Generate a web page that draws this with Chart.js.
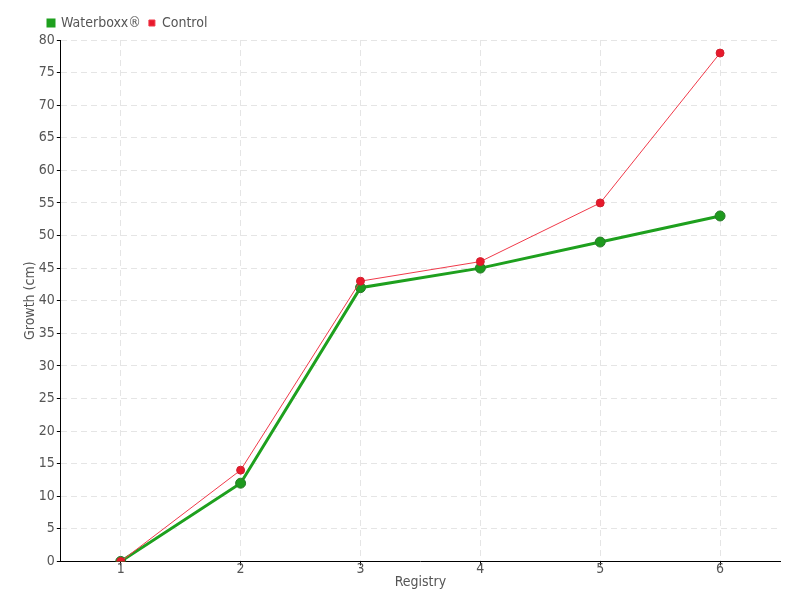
<!DOCTYPE html>
<html>
<head>
<meta charset="utf-8">
<script src="https://cdn.jsdelivr.net/npm/chart.js@4.4.0/dist/chart.umd.min.js"></script>
<style>
  body { margin: 0; background: #fff; }
  #growth { display: block; }
</style>
</head>
<body>
<canvas id="growth" width="800" height="600"></canvas>
<script>
var registries = ['1', '2', '3', '4', '5', '6'];
var waterboxx = [0, 12, 42, 45, 49, 53];
var control = [0, 14, 43, 46, 55, 78];

Chart.defaults.font.family = '"DejaVu Sans Condensed", "Liberation Sans Narrow", sans-serif';
Chart.defaults.font.size = 14;
Chart.defaults.color = '#555555';

// push the legend right so it starts near the y axis, like the original
var legendShift = {
	id: 'legendShift',
	afterLayout: function (chart) {
		chart.legend.left += 18;
	}
};

var ctx = document.getElementById('growth').getContext('2d');
var growthChart = new Chart(ctx, {
	type: 'line',
	data: {
		labels: registries,
		datasets: [{
			label: 'Waterboxx®',
			data: waterboxx,
			order: 1,
			borderColor: '#1ea01e',
			backgroundColor: '#1ea01e',
			borderWidth: 3,
			pointRadius: 5,
			pointBackgroundColor: '#1e9a1e',
			pointBorderColor: '#2a7a2a',
			pointBorderWidth: 1,
			tension: 0,
			fill: false
		},
		{
			label: 'Control',
			data: control,
			order: 0, // drawn on top of the green line
			borderColor: '#f03a4a',
			backgroundColor: '#e8192c',
			borderWidth: 1,
			pointRadius: 4,
			pointBackgroundColor: '#e8192c',
			pointBorderColor: '#d0202e',
			pointBorderWidth: 1,
			tension: 0,
			fill: false
		}]
	},
	options: {
		responsive: false,
		animation: false,
		layout: {
			padding: { left: 22, right: 20, top: 8, bottom: 9 }
		},
		plugins: {
			legend: {
				align: 'start',
				labels: {
					boxWidth: 6,
					boxHeight: 6,
					padding: 8,
					color: '#555555',
					font: { size: 14 },
					sort: function (a, b) { return a.datasetIndex - b.datasetIndex; }
				}
			},
			tooltip: { enabled: false }
		},
		scales: {
			x: {
				offset: true,
				title: {
					display: true,
					text: 'Registry',
					padding: { top: 0, bottom: 0 }
				},
				border: { color: '#000000', width: 1, dash: [6, 4] },
				grid: {
					color: '#e5e5e5',
					offset: false,
					tickColor: '#000000',
					tickLength: 4
				},
				ticks: { padding: -4 }
			},
			y: {
				min: 0,
				max: 80,
				title: {
					display: true,
					text: 'Growth (cm)',
					padding: { top: 0, bottom: -2 }
				},
				border: { color: '#000000', width: 1, dash: [6, 4] },
				grid: {
					color: '#e5e5e5',
					tickColor: '#000000',
					tickLength: 4
				},
				ticks: { stepSize: 5, padding: 2 }
			}
		}
	},
	plugins: [legendShift]
});
</script>
</body>
</html>
